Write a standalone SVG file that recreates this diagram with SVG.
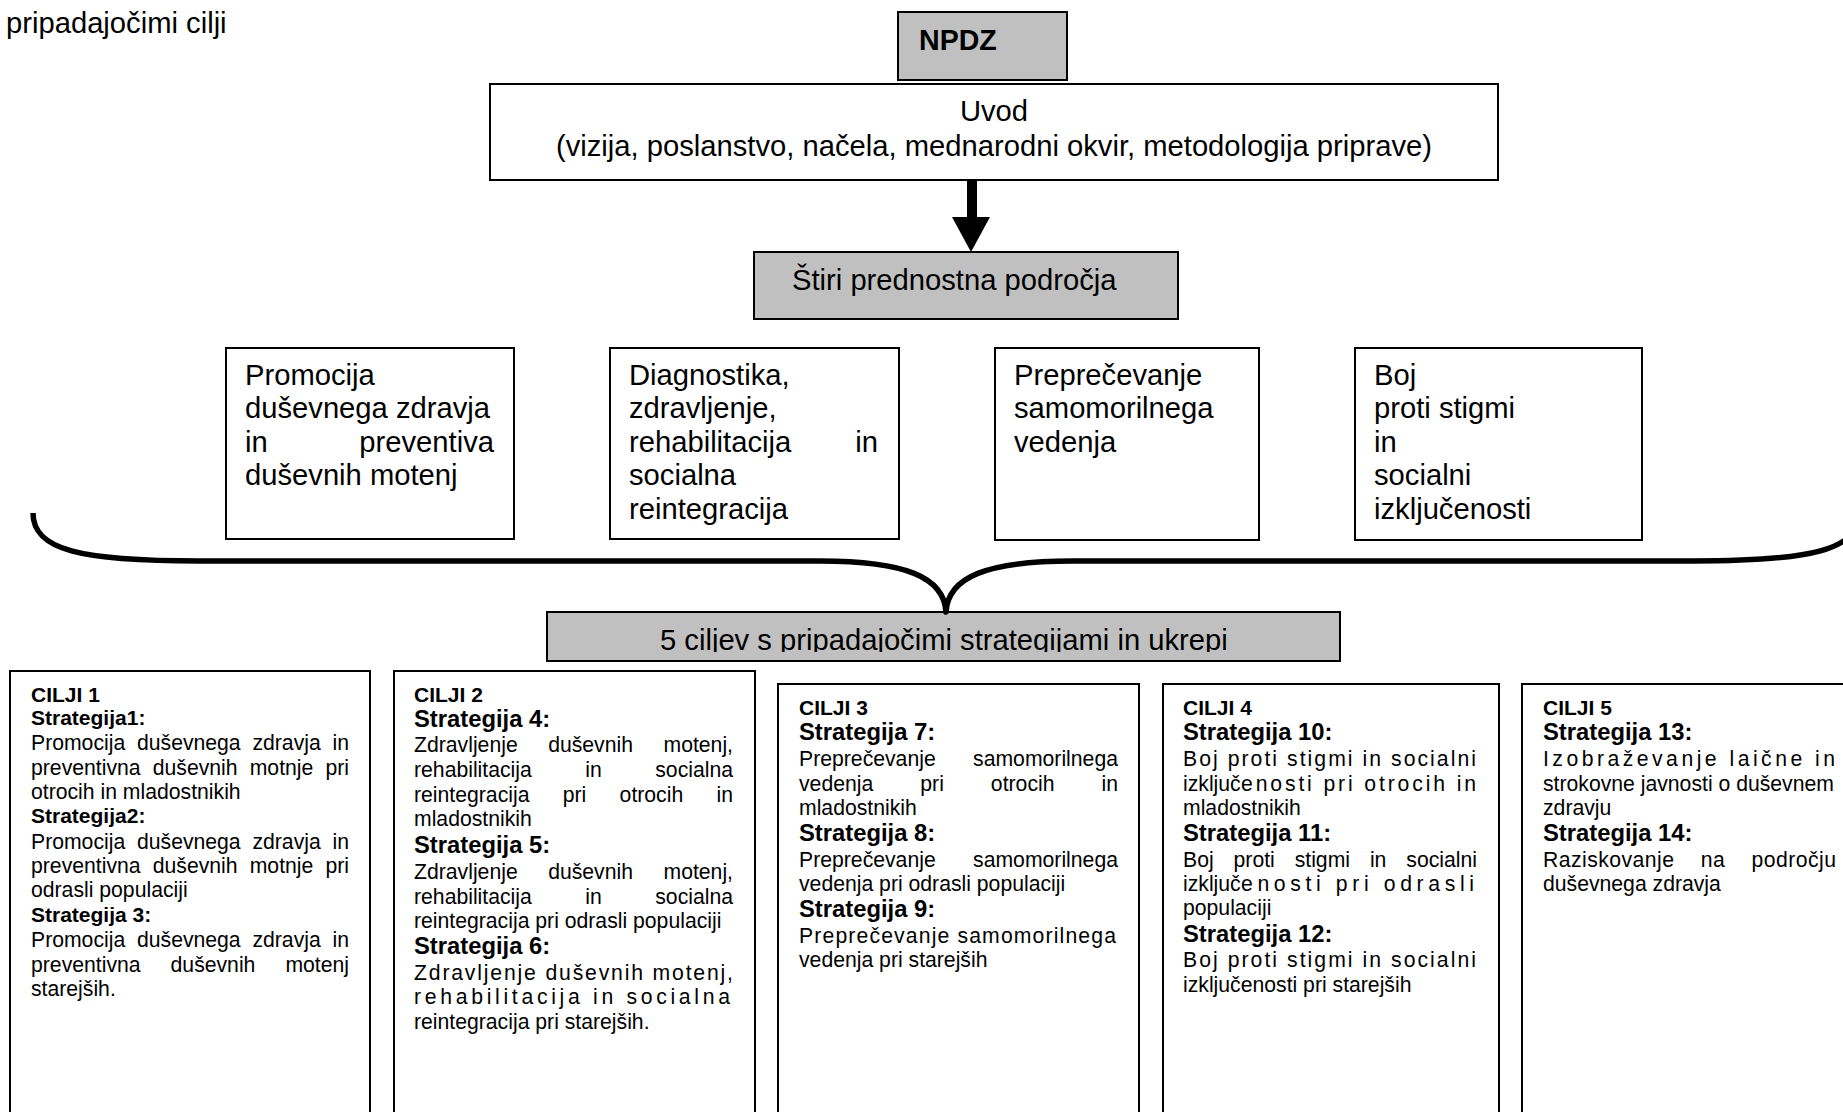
<svg xmlns="http://www.w3.org/2000/svg" width="1843" height="1112" viewBox="0 0 1843 1112">
<style>
text{font-family:"Liberation Sans",Arial,sans-serif;fill:#000}
.big{font-size:29.2px}
.hb{font-size:28.6px;font-weight:bold}
.box{fill:#fff;stroke:#000;stroke-width:2}
.gbox{fill:#c0c0c0;stroke:#000;stroke-width:2}
.c{font-size:21.2px}
.cb{font-size:21px;font-weight:bold}
.sb{font-size:23.8px;font-weight:bold}
</style>
<defs>
<clipPath id="clip5"><rect x="547" y="612" width="793" height="40"/></clipPath>
</defs>
<rect width="1843" height="1112" fill="#fff"/>
<text class="big" x="6" y="33">pripadajočimi cilji</text>

<g id="npdz">
<rect class="gbox" x="898" y="12" width="169" height="68"/>
<text class="hb" x="919" y="50">NPDZ</text>
</g>

<g id="uvod">
<rect class="box" x="490" y="84" width="1008" height="96"/>
<text class="big" x="994" y="121" text-anchor="middle">Uvod</text>
<text class="big" x="994" y="156" text-anchor="middle">(vizija, poslanstvo, načela, mednarodni okvir, metodologija priprave)</text>
</g>

<g id="stiri">
<rect class="gbox" x="754" y="252" width="424" height="67"/>
<text class="big" x="792" y="290">Štiri prednostna področja</text>
</g>

<g id="podrocje1">
<rect class="box" x="226" y="348" width="288" height="191"/>
<text class="big" x="245" y="385">Promocija</text>
<text class="big" x="245" y="418.4">duševnega zdravja</text>
<text class="big" x="245" y="451.8">in</text>
<text class="big" x="494" y="451.8" text-anchor="end">preventiva</text>
<text class="big" x="245" y="485.2">duševnih motenj</text>
</g>

<g id="podrocje2">
<rect class="box" x="610" y="348" width="289" height="191"/>
<text class="big" x="629" y="385">Diagnostika,</text>
<text class="big" x="629" y="418.4">zdravljenje,</text>
<text class="big" x="629" y="451.8">rehabilitacija</text>
<text class="big" x="878" y="451.8" text-anchor="end">in</text>
<text class="big" x="629" y="485.2">socialna</text>
<text class="big" x="629" y="518.6">reintegracija</text>
</g>

<g id="podrocje3">
<rect class="box" x="995" y="348" width="264" height="192"/>
<text class="big" x="1014" y="385">Preprečevanje</text>
<text class="big" x="1014" y="418.4">samomorilnega</text>
<text class="big" x="1014" y="451.8">vedenja</text>
</g>

<g id="podrocje4">
<rect class="box" x="1355" y="348" width="287" height="192"/>
<text class="big" x="1374" y="385">Boj</text>
<text class="big" x="1374" y="418.4">proti stigmi</text>
<text class="big" x="1374" y="451.8">in</text>
<text class="big" x="1374" y="485.2">socialni</text>
<text class="big" x="1374" y="518.6">izključenosti</text>
</g>

<g id="cilji5skupaj">
<rect class="gbox" x="547" y="612" width="793" height="49"/>
<text class="big" x="660" y="649.5" clip-path="url(#clip5)">5 ciljev s pripadajočimi strategijami in ukrepi</text>
</g>

<g id="connectors">
<rect x="967" y="180" width="10" height="38" fill="#000"/>
<polygon points="952,217 990,217 971,252" fill="#000"/>
<path d="M 33 513 C 33 550 80 561 200 561 L 820 561 C 905 561 944 577 946 612 C 948 577 987 561 1072 561 L 1692 561 C 1812 561 1859 550 1859 513" fill="none" stroke="#000" stroke-width="5.5" stroke-linejoin="round"/>
</g>

<g id="cilji1">
<rect class="box" x="10" y="671" width="360" height="460"/>
<text class="cb" x="31" y="702">CILJI 1</text>
<text class="cb" x="31" y="725">Strategija1:</text>
<text class="c" x="31" y="750" word-spacing="5.9" textLength="318" lengthAdjust="spacing">Promocija duševnega zdravja in</text>
<text class="c" x="31" y="774.5" word-spacing="6.2" textLength="318" lengthAdjust="spacing">preventivna duševnih motnje pri</text>
<text class="c" x="31" y="798.5">otrocih in mladostnikih</text>
<text class="cb" x="31" y="823">Strategija2:</text>
<text class="c" x="31" y="849" word-spacing="5.9" textLength="318" lengthAdjust="spacing">Promocija duševnega zdravja in</text>
<text class="c" x="31" y="873" word-spacing="6.2" textLength="318" lengthAdjust="spacing">preventivna duševnih motnje pri</text>
<text class="c" x="31" y="897">odrasli populaciji</text>
<text class="cb" x="31" y="922">Strategija 3:</text>
<text class="c" x="31" y="947" word-spacing="5.9" textLength="318" lengthAdjust="spacing">Promocija duševnega zdravja in</text>
<text class="c" x="31" y="972" word-spacing="24.1" textLength="318" lengthAdjust="spacing">preventivna duševnih motenj</text>
<text class="c" x="31" y="996">starejših.</text>
</g>

<g id="cilji2">
<rect class="box" x="394" y="671" width="361" height="460"/>
<text class="cb" x="414" y="702">CILJI 2</text>
<text class="sb" x="414" y="727">Strategija 4:</text>
<text class="c" x="414" y="752" word-spacing="24.6" textLength="319" lengthAdjust="spacing">Zdravljenje duševnih motenj,</text>
<text class="c" x="414" y="777" word-spacing="47.6" textLength="319" lengthAdjust="spacing">rehabilitacija in socialna</text>
<text class="c" x="414" y="802" word-spacing="27.4" textLength="319" lengthAdjust="spacing">reintegracija pri otrocih in</text>
<text class="c" x="414" y="826">mladostnikih</text>
<text class="sb" x="414" y="852.5">Strategija 5:</text>
<text class="c" x="414" y="878.5" word-spacing="24.6" textLength="319" lengthAdjust="spacing">Zdravljenje duševnih motenj,</text>
<text class="c" x="414" y="903.5" word-spacing="47.6" textLength="319" lengthAdjust="spacing">rehabilitacija in socialna</text>
<text class="c" x="414" y="928">reintegracija pri odrasli populaciji</text>
<text class="sb" x="414" y="953.5">Strategija 6:</text>
<text class="c" x="414" y="979.5" textLength="319" lengthAdjust="spacing">Zdravljenje duševnih motenj,</text>
<text class="c" x="414" y="1003.5" textLength="316" lengthAdjust="spacing">rehabilitacija in socialna</text>
<text class="c" x="414" y="1028.5">reintegracija pri starejših.</text>
</g>

<g id="cilji3">
<rect class="box" x="778" y="684" width="361" height="460"/>
<text class="cb" x="799" y="714.5">CILJI 3</text>
<text class="sb" x="799" y="740">Strategija 7:</text>
<text class="c" x="799" y="766" word-spacing="31.5" textLength="319" lengthAdjust="spacing">Preprečevanje samomorilnega</text>
<text class="c" x="799" y="790.5" word-spacing="41.1" textLength="319" lengthAdjust="spacing">vedenja pri otrocih in</text>
<text class="c" x="799" y="815">mladostnikih</text>
<text class="sb" x="799" y="841">Strategija 8:</text>
<text class="c" x="799" y="866.5" word-spacing="31.5" textLength="319" lengthAdjust="spacing">Preprečevanje samomorilnega</text>
<text class="c" x="799" y="891">vedenja pri odrasli populaciji</text>
<text class="sb" x="799" y="916.5">Strategija 9:</text>
<text class="c" x="799" y="943" textLength="317" lengthAdjust="spacing">Preprečevanje samomorilnega</text>
<text class="c" x="799" y="966.5">vedenja pri starejših</text>
</g>

<g id="cilji4">
<rect class="box" x="1163" y="684" width="336" height="460"/>
<text class="cb" x="1183" y="714.5">CILJI 4</text>
<text class="sb" x="1183" y="740">Strategija 10:</text>
<text class="c" x="1183" y="766" textLength="293" lengthAdjust="spacing">Boj proti stigmi in socialni</text>
<text class="c" x="1183" y="791">izključ</text>
<text class="c" x="1241" y="791" textLength="235" lengthAdjust="spacing">enosti pri otrocih in</text>
<text class="c" x="1183" y="815">mladostnikih</text>
<text class="sb" x="1183" y="841">Strategija 11:</text>
<text class="c" x="1183" y="866.5" word-spacing="14" textLength="294" lengthAdjust="spacing">Boj proti stigmi in socialni</text>
<text class="c" x="1183" y="891">izključ</text>
<text class="c" x="1241" y="891" textLength="233" lengthAdjust="spacing">enosti pri odrasli</text>
<text class="c" x="1183" y="915">populaciji</text>
<text class="sb" x="1183" y="941.5">Strategija 12:</text>
<text class="c" x="1183" y="966.5" textLength="293" lengthAdjust="spacing">Boj proti stigmi in socialni</text>
<text class="c" x="1183" y="991.5">izključenosti pri starejših</text>
</g>

<g id="cilji5">
<rect class="box" x="1522" y="684" width="360" height="460"/>
<text class="cb" x="1543" y="714.5">CILJI 5</text>
<text class="sb" x="1543" y="740">Strategija 13:</text>
<text class="c" x="1543" y="766" textLength="292" lengthAdjust="spacing">Izobraževanje laične in</text>
<text class="c" x="1543" y="791">strokovne javnosti o duševnem</text>
<text class="c" x="1543" y="815">zdravju</text>
<text class="sb" x="1543" y="841">Strategija 14:</text>
<text class="c" x="1543" y="866.5" word-spacing="19.9" textLength="293" lengthAdjust="spacing">Raziskovanje na področju</text>
<text class="c" x="1543" y="891">duševnega zdravja</text>
</g>
</svg>
